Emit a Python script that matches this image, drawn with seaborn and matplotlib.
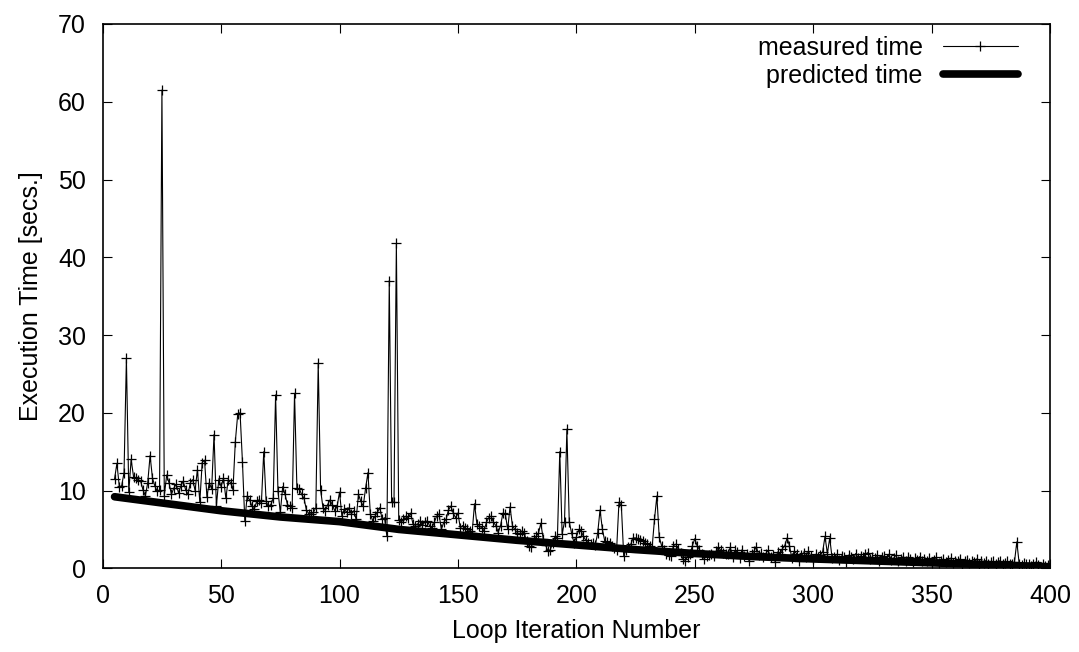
import matplotlib
matplotlib.use("Agg")
import matplotlib.pyplot as plt
import seaborn as sns
import pandas as pd

# ---------------- data ----------------
iterations = list(range(5, 401))

measured_time = [
    11.5, 13.5, 10.5, 10.6, 12.3,                                  # 5-9
    27.0, 9.8, 14.0, 11.8, 11.6, 11.4, 11.2, 10.1, 9.3, 11.0,      # 10-19
    14.5, 11.6, 10.6, 9.9, 10.1, 61.5, 9.3, 12.0, 11.0, 9.5,       # 20-29
    10.3, 10.8, 9.7, 10.6, 11.2, 10.1, 9.5, 11.0, 11.4, 10.0,      # 30-39
    12.7, 8.5, 13.6, 13.9, 9.2, 11.0, 10.2, 17.2, 8.0, 11.4,       # 40-49
    10.5, 11.6, 9.0, 11.4, 11.0, 10.1, 16.3, 19.8, 20.0, 13.7,     # 50-59
    6.1, 9.3, 8.8, 8.0, 7.6, 8.6, 8.8, 8.4, 15.0, 8.6,             # 60-69
    8.0, 8.2, 9.0, 22.3, 9.9, 7.2, 10.5, 9.5, 8.2, 8.0,            # 70-79
    7.8, 22.5, 10.3, 10.2, 9.5, 9.0, 7.5, 7.0, 7.0, 7.2,           # 80-89
    7.8, 26.4, 10.1, 7.8, 7.4, 8.2, 8.8, 8.1, 7.4, 8.0,            # 90-99
    9.8, 6.7, 7.6, 7.2, 7.8, 7.0, 7.4, 6.3, 9.5, 8.6,              # 100-109
    8.0, 10.3, 12.3, 7.0, 6.1, 6.7, 7.2, 7.8, 6.3, 6.5,            # 110-119
    4.1, 37.0, 8.5, 8.5, 41.8, 6.2, 5.9, 6.3, 6.7, 6.5,            # 120-129
    7.1, 5.7, 5.5, 5.7, 6.1, 5.6, 5.9, 6.1, 5.5, 5.2,              # 130-139
    5.9, 6.7, 7.0, 5.0, 5.9, 6.3, 7.5, 8.0, 7.1, 6.5,              # 140-149
    7.1, 5.2, 5.5, 5.2, 5.0, 4.8, 4.6, 8.3, 5.7, 5.5,              # 150-159
    5.2, 4.8, 5.9, 6.5, 6.7, 5.9, 5.5, 4.6, 5.5, 7.1,              # 160-169
    7.0, 5.0, 7.9, 5.5, 5.0, 4.6, 4.4, 4.8, 4.5, 3.5,              # 170-179
    2.9, 2.7, 3.8, 4.1, 4.5, 5.8, 3.8, 3.0, 2.2, 2.4,              # 180-189
    3.2, 4.1, 3.9, 15.0, 4.4, 6.0, 17.9, 6.0, 4.5, 3.3,            # 190-199
    4.0, 5.0, 4.8, 4.1, 3.6, 3.3, 3.1, 3.3, 3.0, 4.5,              # 200-209
    7.5, 5.0, 3.5, 3.4, 3.3, 2.9, 2.6, 2.4, 8.5, 8.1,              # 210-219
    1.6, 2.4, 2.8, 3.1, 3.9, 3.9, 3.8, 3.7, 3.5, 3.3,              # 220-229
    3.1, 2.9, 2.7, 6.3, 9.3, 4.0, 2.9, 2.4, 1.8, 1.7,              # 230-239
    1.6, 2.9, 3.1, 2.5, 2.0, 1.2, 1.0, 1.5, 1.8, 2.9,              # 240-249
    3.8, 2.9, 2.4, 1.8, 1.2, 1.6, 1.7, 1.8, 1.6, 2.2,              # 250-259
    2.7, 2.3, 2.0, 1.9, 1.8, 2.7, 1.5, 2.3, 2.1, 1.3,              # 260-269
    2.4, 1.6, 1.9, 0.9, 1.8, 2.2, 2.8, 1.7, 2.0, 1.4,              # 270-279
    1.9, 2.3, 1.5, 1.7, 0.8, 2.1, 1.8, 2.5, 2.9, 3.9,              # 280-289
    2.9, 1.3, 2.2, 1.9, 1.0, 1.7, 2.0, 1.5, 2.2, 1.6,              # 290-299
    1.2, 1.8, 1.4, 1.7, 2.1, 4.1, 1.9, 3.9, 1.3, 1.5,              # 300-309
    1.8, 1.1, 1.6, 1.4, 0.8, 1.7, 1.5, 1.2, 1.9, 1.3,              # 310-319
    1.6, 1.4, 1.8, 2.0, 1.2, 1.5, 1.3, 1.7, 1.0, 1.4,              # 320-329
    1.6, 1.2, 1.8, 1.1, 1.3, 1.7, 0.9, 1.2, 1.5, 1.0,              # 330-339
    1.4, 1.2, 0.8, 1.3, 1.1, 1.5, 0.9, 1.2, 1.0, 1.3,              # 340-349
    0.8, 1.1, 1.4, 0.7, 1.0, 1.2, 0.8, 1.1, 1.3, 0.7,              # 350-359
    1.0, 0.9, 1.2, 0.6, 0.9, 1.1, 0.7, 1.0, 0.8, 1.2,              # 360-369
    0.6, 0.9, 0.7, 1.0, 0.5, 0.8, 0.9, 0.6, 0.8, 1.0,              # 370-379
    0.5, 0.7, 0.9, 0.6, 0.5, 0.8, 3.4, 0.6, 0.4, 0.7,              # 380-389
    0.5, 0.6, 0.3, 0.5, 0.8, 0.4, 0.2, 0.5, 0.3, 0.4,              # 390-399
    0.2,                                                           # 400
]

predicted_iter = [5, 25, 50, 75, 100, 125, 150, 175, 200, 225, 250, 275, 300, 325, 350, 375, 400]
predicted_time = [9.2, 8.4, 7.4, 6.6, 6.0, 5.0, 4.3, 3.6, 3.0, 2.4, 1.9, 1.5, 1.2, 0.95, 0.7, 0.45, 0.2]

x_ticks = [0, 50, 100, 150, 200, 250, 300, 350, 400]
y_ticks = [0, 10, 20, 30, 40, 50, 60, 70]

measured_df = pd.DataFrame({"iteration": iterations, "time": measured_time})
predicted_df = pd.DataFrame({"iteration": predicted_iter, "time": predicted_time})

# ---------------- style ----------------
sns.set_style("ticks")
plt.rcParams["font.family"] = ["Liberation Sans", "DejaVu Sans"]
plt.rcParams["text.color"] = "black"
plt.rcParams["axes.labelcolor"] = "black"
plt.rcParams["xtick.color"] = "black"
plt.rcParams["ytick.color"] = "black"

FS = 18
fig = plt.figure(figsize=(10.79, 6.52), dpi=100)
ax = fig.add_axes([0.0952, 0.1284, 0.8779, 0.8348])

sns.lineplot(data=measured_df, x="iteration", y="time", ax=ax, color="black",
             linewidth=0.8, marker="+", markersize=7, markeredgewidth=0.9,
             markeredgecolor="black", label="measured time")
sns.lineplot(data=predicted_df, x="iteration", y="time", ax=ax, color="black",
             linewidth=5.5, label="predicted time")

ax.set_xlim(0, 400)
ax.set_ylim(0, 70)
ax.set_xticks(x_ticks)
ax.set_yticks(y_ticks)
ax.tick_params(direction="in", length=6.5, width=0.8, top=True, right=True,
               labelsize=FS, colors="black", labelcolor="black")
ax.tick_params(axis="x", pad=11)
ax.tick_params(axis="y", pad=12)
for s in ax.spines.values():
    s.set_visible(True)
    s.set_linewidth(1.2)
    s.set_color("black")

ax.set_xlabel("Loop Iteration Number", fontsize=FS, labelpad=8, color="black")
ax.set_ylabel("Execution Time [secs.]", fontsize=FS, labelpad=11, color="black")

leg = ax.legend(loc="upper right", bbox_to_anchor=(0.966, 0.978), frameon=False,
                markerfirst=False, fontsize=FS, handlelength=3.0, handletextpad=0.8,
                labelspacing=0.15, borderaxespad=0, borderpad=0, numpoints=1)
for t in leg.get_texts():
    t.set_color("black")

fig.savefig("out.png", dpi=100)
